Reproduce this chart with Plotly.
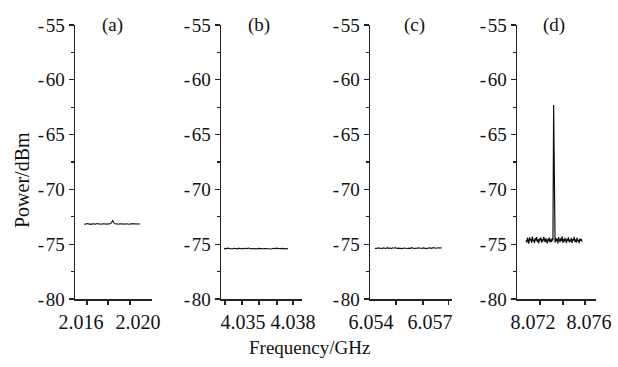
import numpy as np
import plotly.graph_objects as go

# ---------------- data ----------------
# panel (a) ~2.018 GHz
fa_start, fa_stop = 2.01621, 2.02014
pa = [-73.15, -73.18, -73.12, -73.16, -73.14, -73.19, -73.13, -73.15, -73.17, -73.12,
      -73.16, -73.14, -73.18, -73.13, -73.15, -73.11, -73.17, -73.14, -73.16, -73.05,
      -72.85, -73.08, -73.15, -73.13, -73.18, -73.14, -73.16, -73.12, -73.17, -73.15,
      -73.13, -73.18, -73.14, -73.16, -73.12, -73.15, -73.17, -73.14, -73.16, -73.15]

# panel (b) ~4.036 GHz
fb_start, fb_stop = 4.03386, 4.03770
pb = [-75.38, -75.42, -75.36, -75.41, -75.39, -75.44, -75.37, -75.40, -75.43, -75.36,
      -75.41, -75.38, -75.42, -75.37, -75.40, -75.35, -75.42, -75.39, -75.41, -75.37,
      -75.43, -75.38, -75.40, -75.36, -75.42, -75.39, -75.41, -75.37, -75.40, -75.44,
      -75.38, -75.41, -75.36, -75.40, -75.42, -75.38, -75.41, -75.39, -75.43, -75.40]

# panel (c) ~6.056 GHz
fc_start, fc_stop = 6.05420, 6.05761
pc = [-75.36, -75.40, -75.33, -75.38, -75.35, -75.41, -75.34, -75.37, -75.39, -75.32,
      -75.38, -75.35, -75.40, -75.33, -75.37, -75.31, -75.39, -75.36, -75.38, -75.34,
      -75.40, -75.35, -75.37, -75.33, -75.39, -75.36, -75.38, -75.32, -75.37, -75.41,
      -75.35, -75.38, -75.33, -75.37, -75.39, -75.34, -75.38, -75.36, -75.40, -75.35,
      -75.33, -75.38, -75.36, -75.31, -75.37, -75.34, -75.36, -75.32, -75.35, -75.33]

# panel (d) ~8.073 GHz with carrier spike
fd_start, fd_stop = 8.07150, 8.07550
pd_ = [-74.62, -74.85, -74.41, -74.70, -74.95, -74.38, -74.66, -74.52, -74.88, -74.30,
       -74.72, -74.58, -74.90, -74.45, -74.68, -74.35, -74.80, -74.55, -74.92, -74.48,
       -74.64, -74.40, -74.86, -74.57, -74.74, -74.33, -74.69, -74.82, -74.46, -74.61,
       -74.93, -74.50, -74.71, -74.39, -74.84, -74.56, -74.78, -74.44, -74.67, -62.30,
       -74.58, -74.87, -74.42, -74.73, -74.51, -74.94, -74.36, -74.65, -74.81, -74.47,
       -74.70, -74.28, -74.89, -74.54, -74.76, -74.43, -74.63, -74.91, -74.49, -74.69,
       -74.37, -74.83, -74.59, -74.75, -74.45, -74.88, -74.53, -74.66, -74.32, -74.79,
       -74.57, -74.86, -74.41, -74.72, -74.60, -74.90, -74.48, -74.68, -74.55, -74.77]

panel_labels = ["(a)", "(b)", "(c)", "(d)"]
y_ticks = [-80, -75, -70, -65, -60, -55]
y_ticktext = ["-\u200a80", "-\u200a75", "-\u200a70", "-\u200a65", "-\u200a60", "-\u200a55"]
y_minor = [-77.5, -72.5, -67.5, -62.5, -57.5]
x_ranges = [[2.015579, 2.020982], [4.033680, 4.038540], [6.053949, 6.058118], [8.070857, 8.076500]]
x_tickvals = [[2.016, 2.020], [4.035, 4.038], [6.054, 6.057], [8.072, 8.076]]
x_tickmarks = [[2.01642, 2.01790, 2.01944],
               [4.03392, 4.03494, 4.03596, 4.03704, 4.03800],
               [6.05527, 6.05664, 6.05792],
               [8.07250, 8.07414, 8.07571]]

series = [
    (np.linspace(fa_start, fa_stop, len(pa)), pa),
    (np.linspace(fb_start, fb_stop, len(pb)), pb),
    (np.linspace(fc_start, fc_stop, len(pc)), pc),
    (np.linspace(fd_start, fd_stop, len(pd_)), pd_),
]
line_widths = [1.1, 1.1, 1.1, 1.2]

# ---------------- layout ----------------
W, H = 618, 367
x_dom_px = [(75, 152), (221, 302), (370, 452), (517, 596)]
y_dom = [1 - 299 / H, 1 - 25 / H]
label_x_px = [112, 259, 414, 554]
FONT = "Liberation Serif"
INK = "#111111"
AX = "#222222"

fig = go.Figure()
for i, (fx, py) in enumerate(series):
    n = "" if i == 0 else str(i + 1)
    fig.add_trace(go.Scatter(x=fx, y=py, mode="lines",
                             line=dict(color=INK, width=line_widths[i]),
                             xaxis="x" + n, yaxis="y" + n, showlegend=False,
                             hoverinfo="skip"))
    xa = dict(domain=[x_dom_px[i][0] / W, x_dom_px[i][1] / W], anchor="y" + n,
              range=x_ranges[i], tickmode="array", tickvals=x_tickvals[i],
              ticktext=[f"{v:.3f}" for v in x_tickvals[i]], tickangle=0,
              ticklabeloverflow="allow",
              showline=True, linecolor=AX, linewidth=1.5,
              ticks="outside", ticklen=4, tickwidth=1, tickcolor="rgba(0,0,0,0)",
              minor=dict(tickmode="array", tickvals=x_tickmarks[i], ticks="outside",
                         ticklen=4, tickwidth=1.2, tickcolor=AX),
              showgrid=False, zeroline=False, automargin=False,
              tickfont=dict(family=FONT, size=20, color=INK))
    ya = dict(domain=y_dom, anchor="x" + n, range=[-80, -55],
              tickmode="array", tickvals=y_ticks, ticktext=y_ticktext,
              ticklabeloverflow="allow",
              showline=True, linecolor=AX, linewidth=1.5,
              ticks="outside", ticklen=5, tickwidth=1.2, tickcolor=AX,
              minor=dict(tickmode="array", tickvals=y_minor,
                         ticks="outside", ticklen=3, tickwidth=1.2, tickcolor=AX),
              showgrid=False, zeroline=False, automargin=False,
              tickfont=dict(family=FONT, size=19, color=INK))
    fig.update_layout(**{"xaxis" + n: xa, "yaxis" + n: ya})
    fig.add_annotation(text=panel_labels[i], x=label_x_px[i] / W, y=1 - 25 / H,
                       xref="paper", yref="paper", showarrow=False,
                       xanchor="center", yanchor="middle",
                       font=dict(family=FONT, size=19, color=INK))

fig.add_annotation(text="Power/dBm", x=22 / W, y=1 - 180 / H, xref="paper", yref="paper",
                   showarrow=False, textangle=-90, xanchor="center", yanchor="middle",
                   font=dict(family=FONT, size=20, color=INK))
fig.add_annotation(text="Frequency/GHz", x=309 / W, y=1 - 347 / H, xref="paper", yref="paper",
                   showarrow=False, xanchor="center", yanchor="middle",
                   font=dict(family=FONT, size=19, color=INK))

fig.update_layout(width=W, height=H, margin=dict(l=0, r=0, t=0, b=0, autoexpand=False),
                  paper_bgcolor="white", plot_bgcolor="white")

fig.write_html("out.html", config={"displayModeBar": False, "staticPlot": True},
               post_script="document.body.style.margin='0';document.body.style.overflow='hidden';")
